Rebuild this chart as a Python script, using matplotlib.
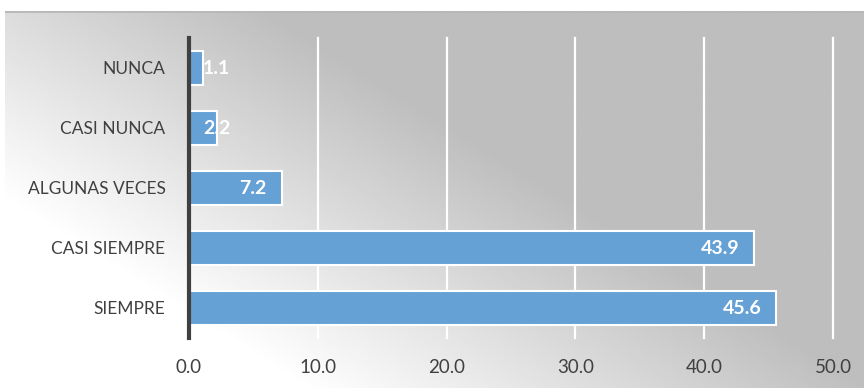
import numpy as np
import matplotlib.pyplot as plt

categories = ['NUNCA', 'CASI NUNCA', 'ALGUNAS VECES', 'CASI SIEMPRE', 'SIEMPRE']
values = [1.1, 2.2, 7.2, 43.9, 45.6]
xticks = [0, 10, 20, 30, 40, 50]

plt.rcParams['font.family'] = ['Lato', 'DejaVu Sans']

W, H = 864, 388
fig = plt.figure(figsize=(W / 100, H / 100), dpi=100)

# background: diagonal gradient, white bottom-left -> grey top-right
bg = fig.add_axes([5 / W, 0, (W - 5) / W, 377 / H], zorder=-5)
gx = np.linspace(0, W - 5, 400)
gy = np.linspace(0, 1, 200)  # 0 = top, 1 = bottom
X, Y = np.meshgrid(gx, gy)
t = np.clip(-0.53 + X / 564 + 1.07 * (1 - Y), 0, 1)
img = 255 - 65 * t
bg.imshow(img, cmap='gray', vmin=0, vmax=255, aspect='auto',
          extent=[0, 1, 0, 1], interpolation='bilinear')
bg.axhline(1, color='#b8b8b8', lw=2)
bg.set_xlim(0, 1)
bg.set_ylim(0, 1)
bg.axis('off')

ax = fig.add_axes([189 / W, 50 / H, 644 / W, 300 / H])
ax.patch.set_alpha(0)

ypos = np.arange(len(categories))
ax.barh(ypos, values, height=0.58, color='#66a1d6', edgecolor='white',
        linewidth=1.5, zorder=3)

for y, v in zip(ypos, values):
    ax.text(max(v - 1.16, 3.2), y, f'{v:.1f}', ha='right', va='center',
            color='white', fontsize=14, fontweight='bold', zorder=4)

ax.set_xlim(0, 50)
ax.set_ylim(len(categories) - 0.5, -0.5)
ax.set_yticks(ypos)
ax.set_yticklabels(categories)
ax.set_xticks(xticks)
ax.set_xticklabels([f'{x:.1f}' for x in xticks])
ax.tick_params(axis='both', length=0, colors='#404040')
ax.tick_params(axis='y', pad=17, labelsize=12.5)
ax.tick_params(axis='x', pad=15, labelsize=13.5)

ax.grid(axis='x', color='white', lw=1.6, zorder=1)
for gl in ax.get_xgridlines():
    gl.set_clip_on(False)
ax.set_axisbelow(True)

for s in ['top', 'right', 'bottom']:
    ax.spines[s].set_visible(False)
ax.spines['left'].set_color('#404040')
ax.spines['left'].set_linewidth(3)
ax.spines['left'].set_zorder(5)

fig.savefig('out.png', dpi=100)
